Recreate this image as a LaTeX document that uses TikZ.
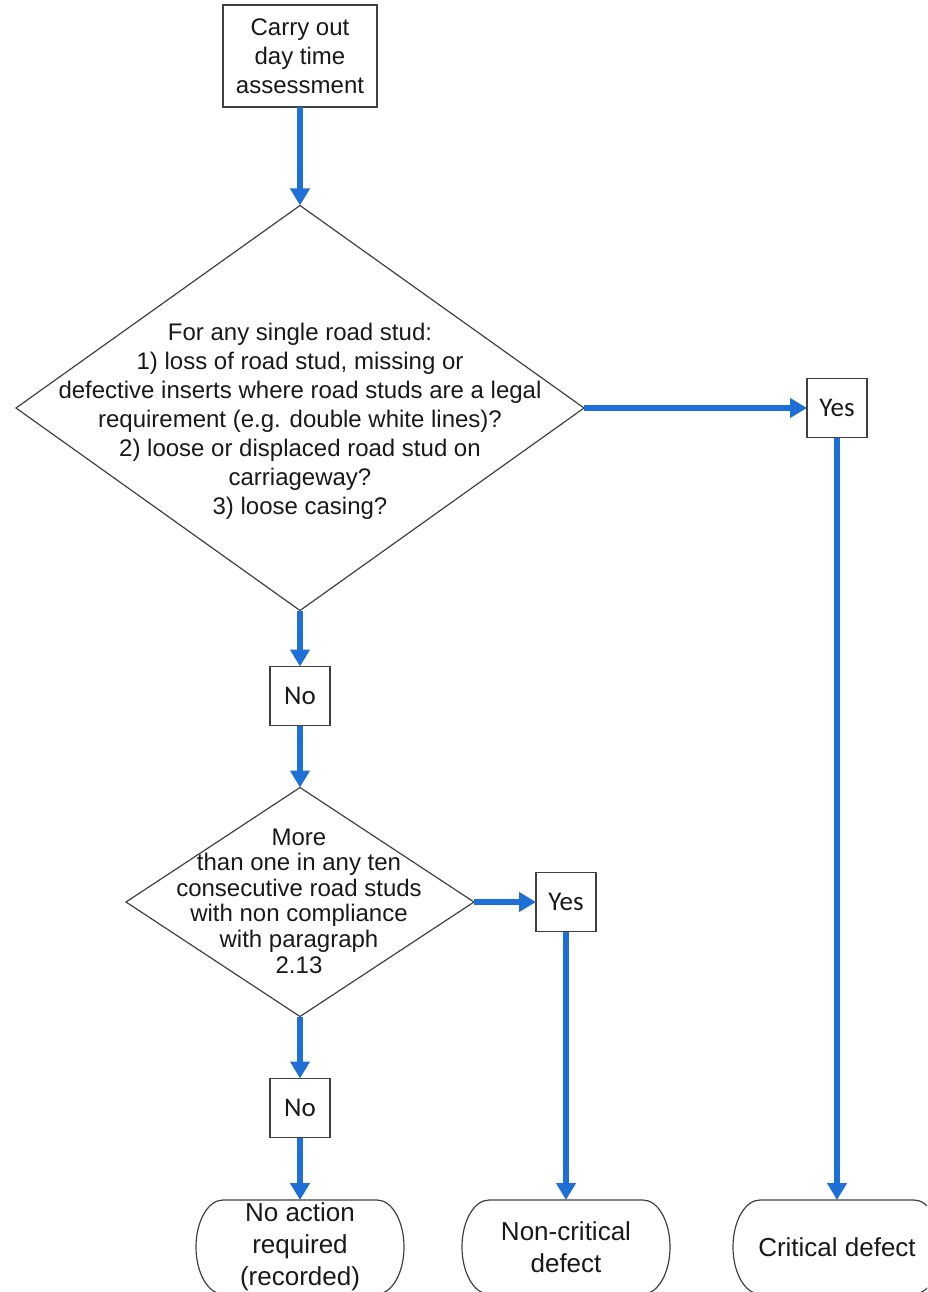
\documentclass[tikz,border=0pt]{standalone}
\usepackage{fontspec}
\setmainfont{Liberation Sans}
\newfontfamily\answerfont{Carlito}
\usetikzlibrary{shapes.geometric,arrows.meta}

\begin{document}
\begin{tikzpicture}[x=1pt,y=1pt,yscale=-1,xscale=1,
    flowline/.style={color={rgb, 255:red, 30; green, 112; blue, 214 },line width=5.5,-{Triangle[length=17pt,width=19pt]}},
    outline/.style={draw=black!75,line width=1.2},
    stepbox/.style={outline,fill=white,text=black!90,inner sep=0,outer sep=0,align=center,font=\fontsize{24}{29}\selectfont},
    answer/.style={stepbox,minimum width=60,minimum height=59,font=\answerfont\fontsize{27}{30}\selectfont},
    decision/.style={diamond,outline,inner sep=0,outer sep=0},
    decisiontext/.style={align=center,text=black!90,inner sep=0},
    terminal/.style={text=black!90,inner sep=0,outer sep=0,align=center,minimum width=208,minimum height=94,font=\fontsize{26}{32}\selectfont}]
    \clip (0,0) rectangle (927,1292);
    %Start
    \node [stepbox,minimum width=154,minimum height=102] (start) at (300,56) {Carry out\\day time\\assessment};
    %Decision: single road stud
    \node [decision,minimum width=568,minimum height=405] (single) at (300,408) {};
    \node [decisiontext,font=\fontsize{24}{29}\selectfont] (singletext) at (300,421) {For any single road stud:\\1) loss of road stud, missing or\\defective inserts where road studs are a legal\\requirement (e.g. double white lines)?\\2) loose or displaced road stud on\\carriageway?\\3) loose casing?};
    \node [answer] (yesA) at (837,408) {Yes};
    \node [answer] (noA) at (300,696) {No};
    %Decision: ten consecutive studs
    \node [decision,minimum width=348,minimum height=229] (ten) at (300,902) {};
    \node [decisiontext,font=\fontsize{24}{25.6}\selectfont] (tentext) at (299,901) {More\\than one in any ten\\consecutive road studs\\with non compliance\\with paragraph\\2.13};
    \node [answer] (yesB) at (566,902) {Yes};
    \node [answer] (noB) at (300,1108) {No};
    %Outcomes
    \node [terminal] (noaction) at (300,1247) {No action\\required\\(recorded)};
    \node [terminal] (noncritical) at (566,1247) {Non-critical\\defect};
    \node [terminal] (critical) at (837,1247) {Critical defect};
    \foreach \t in {noaction,noncritical,critical}
        \draw [outline] ([xshift=27]\t.north west) -- ([xshift=-27]\t.north east) arc[start angle=-90,end angle=90,x radius=27,y radius=47] -- ([xshift=27]\t.south west) arc[start angle=90,end angle=270,x radius=27,y radius=47] -- cycle;
    %Connectors
    \draw [flowline] (start) -- (single);
    \draw [flowline] (single.east) -- (yesA.west);
    \draw [flowline] (yesA) -- (critical);
    \draw [flowline] (single.south) -- (noA.north);
    \draw [flowline] (noA) -- (ten);
    \draw [flowline] (ten.east) -- (yesB.west);
    \draw [flowline] (yesB) -- (noncritical);
    \draw [flowline] (ten.south) -- (noB.north);
    \draw [flowline] (noB) -- (noaction);
\end{tikzpicture}
\end{document}
